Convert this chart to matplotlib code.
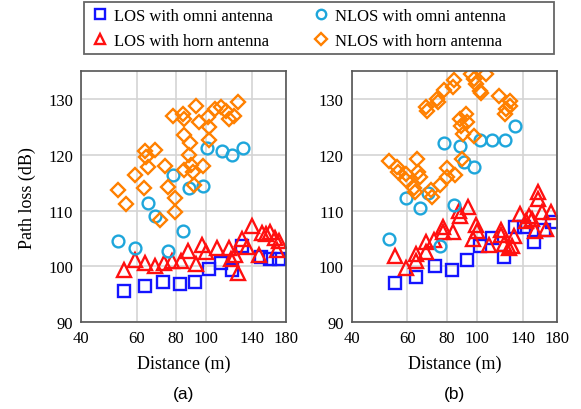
import matplotlib
matplotlib.use("Agg")
import matplotlib.pyplot as plt
from matplotlib.patches import Rectangle
from matplotlib.ticker import FixedLocator, NullLocator, FixedFormatter

plt.rcParams['font.family'] = ['Liberation Serif', 'DejaVu Serif']

# ---- panel (a) ----
a_los_omni_d = [54.5, 63.7, 73, 82.7, 92.3, 102, 111, 121, 130, 149, 160, 171]
a_los_omni_pl = [95.6, 96.4, 97.2, 96.9, 97.2, 99.5, 100.6, 99.4, 103.7, 101.7, 101.3, 101.4]

a_los_horn_d = [54.7, 59.5, 63.8, 68.5, 73.5, 78, 83, 87.5, 92.5, 97, 100, 108, 118, 120,
                123, 126, 130, 135, 140, 147, 150, 155, 160, 165, 168, 171]
a_los_horn_pl = [99.4, 101.2, 100.6, 100.1, 100.6, 101.0, 101.0, 102.7, 100.4, 103.8, 102.5,
                 103.3, 103.3, 101.3, 102.0, 98.8, 104.9, 103.5, 107.3, 102.0, 105.9, 105.8,
                 106.2, 105.0, 103.0, 104.5]

a_nlos_omni_d = [52.5, 59.2, 65.2, 68.9, 75.5, 78.6, 84.1, 88, 97.3, 100.4, 111.9, 121, 130.7]
a_nlos_omni_pl = [104.5, 103.3, 111.4, 109.1, 102.7, 116.4, 106.3, 114.0, 114.4, 121.2,
                  120.6, 120.0, 121.2]

a_nlos_horn_d = [52.5, 55.5, 59.2, 63.2, 64, 64.5, 65, 68.9, 71.4, 73.7, 75.5, 78.6, 79.7,
                 79.7, 84, 84.7, 85, 85, 88.8, 88.4, 89.4, 90.5, 91.2, 92.7, 95, 97.3, 101,
                 102, 102, 106.7, 111, 115.8, 118, 122.5, 126]
a_nlos_horn_pl = [113.7, 111.1, 116.3, 114.0, 120.7, 119.6, 117.8, 120.8, 108.3, 118.0,
                  114.2, 127.0, 112.2, 109.7, 127.3, 126.4, 123.6, 117.2, 122.2, 119.9,
                  118.1, 116.9, 114.6, 128.8, 125.8, 118.0, 126.7, 124.9, 122.7, 128.3,
                  128.6, 127.9, 126.4, 127.0, 129.4]

# ---- panel (b) ----
b_los_omni_d = [54.8, 63.9, 73.5, 83, 92.7, 102.5, 112, 122, 132, 141, 152, 164, 173]
b_los_omni_pl = [97.0, 98.1, 100.1, 99.4, 101.2, 103.7, 105.1, 101.7, 107.0, 107.0, 104.4,
                 106.5, 108.0]

b_los_horn_d = [54.7, 59.3, 63.8, 64, 68.7, 69, 73, 78, 78, 84, 87.8, 88, 93.7, 97, 99.5,
                100, 109, 119, 119, 122, 126, 129, 131, 137, 143, 146, 150, 153, 156, 156,
                161, 166, 172]
b_los_horn_pl = [101.9, 99.7, 102.2, 101.0, 104.4, 102.5, 104.7, 107.0, 106.1, 106.1, 110.0,
                 109.1, 110.6, 104.9, 107.4, 106.4, 103.9, 106.6, 105.6, 104.0, 103.3, 103.7,
                 105.5, 109.4, 108.2, 109.1, 108.5, 106.4, 113.3, 112.1, 109.7, 106.7, 109.7]

b_nlos_omni_d = [52.4, 59.2, 65.8, 69.6, 76, 78.6, 84.5, 88.5, 90.9, 98, 102, 112, 122.5, 132]
b_nlos_omni_pl = [104.9, 112.2, 110.5, 113.1, 103.6, 122.1, 111.0, 121.6, 118.7, 117.8,
                  122.7, 122.7, 122.7, 125.2]

b_nlos_horn_d = [52.4, 55.5, 56, 59.3, 59.3, 63, 63.5, 64.3, 64.8, 65.8, 68.7, 69.5, 71.3,
                 72, 74.5, 75, 76, 78.5, 80, 80.3, 84, 84.5, 85, 88.5, 89, 89.5, 90, 92.5,
                 93, 96, 97.5, 97.7, 99.5, 102, 103, 107, 117.6, 123, 123.5, 127, 127]
b_nlos_horn_pl = [118.8, 117.8, 116.9, 116.6, 115.5, 114.0, 113.3, 119.3, 116.9, 116.0,
                  128.6, 127.9, 113.6, 112.5, 130.0, 129.4, 114.6, 131.7, 117.6, 116.1,
                  132.1, 133.5, 116.4, 126.4, 125.2, 119.3, 123.7, 127.4, 125.9, 134.5,
                  133.6, 123.4, 132.7, 131.5, 131.0, 134.5, 130.6, 127.3, 128.2, 129.7, 128.8]

x_ticks = [40, 60, 80, 100, 140, 180]
y_ticks = [90, 100, 110, 120, 130]

labels = ["LOS with omni antenna", "LOS with horn antenna",
          "NLOS with omni antenna", "NLOS with horn antenna"]

W, H = 581, 410
fig = plt.figure(figsize=(W / 100, H / 100), dpi=100)
ax_a = fig.add_axes([0.140, 0.212, 0.353, 0.612])
ax_b = fig.add_axes([0.606, 0.212, 0.353, 0.612])

panels = [
    (ax_a, "(a)", a_los_omni_d, a_los_omni_pl, a_los_horn_d, a_los_horn_pl,
     a_nlos_omni_d, a_nlos_omni_pl, a_nlos_horn_d, a_nlos_horn_pl),
    (ax_b, "(b)", b_los_omni_d, b_los_omni_pl, b_los_horn_d, b_los_horn_pl,
     b_nlos_omni_d, b_nlos_omni_pl, b_nlos_horn_d, b_nlos_horn_pl),
]

handles = []
for ax, tag, lo_d, lo_pl, lh_d, lh_pl, no_d, no_pl, nh_d, nh_pl in panels:
    kw = dict(linestyle="none", markerfacecolor="none", markeredgewidth=1.7)
    h1, = ax.plot(lo_d, lo_pl, marker="s", markersize=8.5, color="#1414ff", **kw)
    h3, = ax.plot(lh_d, lh_pl, marker="^", markersize=9.5, color="#ff1010", **kw)
    h2, = ax.plot(no_d, no_pl, marker="o", markersize=8.5, color="#1ea6db", **kw)
    h4, = ax.plot(nh_d, nh_pl, marker="D", markersize=7.5, color="#ff8000", **kw)
    # column-wise fill: left column = LOS, right column = NLOS
    handles = [h1, h3, h2, h4]

    ax.set_xscale("log")
    ax.set_xlim(40, 180)
    ax.set_ylim(90, 135)
    ax.xaxis.set_major_locator(FixedLocator(x_ticks))
    ax.xaxis.set_major_formatter(FixedFormatter([str(t) for t in x_ticks]))
    ax.xaxis.set_minor_locator(NullLocator())
    ax.set_yticks(y_ticks)
    ax.grid(True, color="#d4d4d4", linewidth=1.2)
    ax.set_axisbelow(True)
    ax.tick_params(length=0, labelsize=12, pad=6)
    for sp in ax.spines.values():
        sp.set_color("#555555")
        sp.set_linewidth(1.2)
    ax.set_xlabel("Distance (m)", fontsize=13, labelpad=6)
    ax.text(0.5, -0.255, tag, transform=ax.transAxes, ha="center", va="top",
            fontsize=12.5, family=["Liberation Sans", "DejaVu Sans"])

ax_a.set_ylabel("Path loss (dB)", fontsize=13, labelpad=9)

# legend without its own frame; the box is drawn separately (wide right margin)
leg = fig.legend(handles, labels, loc="upper left",
                 bbox_to_anchor=(93 / W, 1 - 9 / H),
                 ncol=2, fontsize=12, frameon=False, markerscale=0.8,
                 handlelength=0.8, handletextpad=0.45, columnspacing=2.5,
                 borderpad=0.0, borderaxespad=0.0, labelspacing=0.55)
fig.add_artist(Rectangle((84 / W, 1 - 55 / H), (554 - 84) / W, 52 / H,
                         transform=fig.transFigure, fill=False,
                         edgecolor="#666666", linewidth=1.3))

fig.savefig("out.png", dpi=100)
